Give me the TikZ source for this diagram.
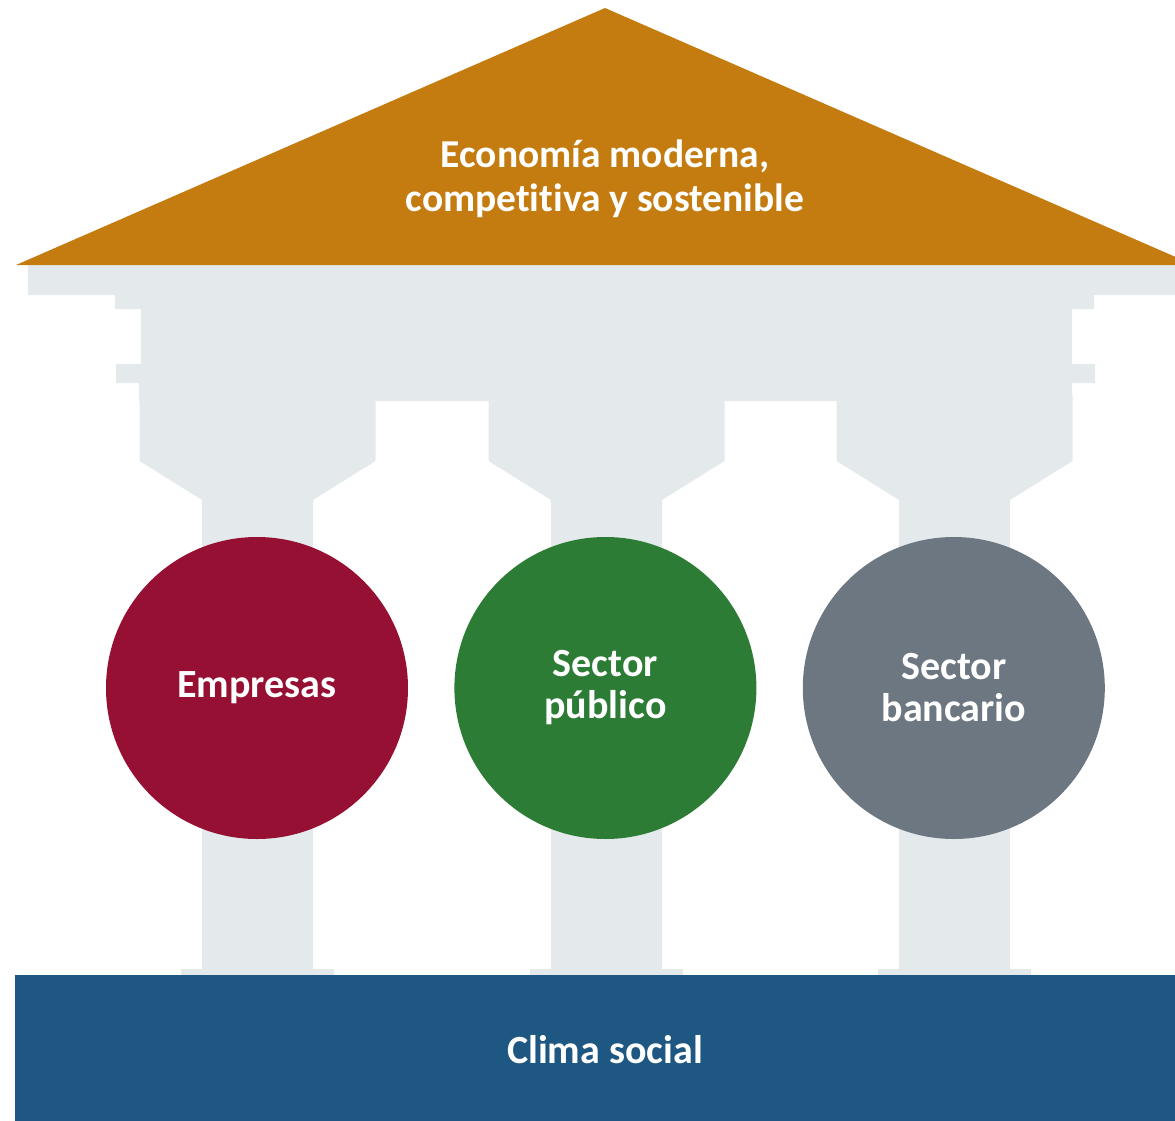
\documentclass[tikz,border=0pt]{standalone}
\usepackage{fontspec}
\setmainfont{Carlito}[Ligatures=NoCommon]
\usepackage{tikz}
\usetikzlibrary{positioning}

\definecolor{roofgold}{RGB}{196,124,16}
\definecolor{templegrey}{RGB}{228,233,236}
\definecolor{empred}{RGB}{150,16,52}
\definecolor{pubgreen}{RGB}{44,124,54}
\definecolor{bankgrey}{RGB}{109,119,129}
\definecolor{climablue}{RGB}{30,87,130}

\begin{document}
\begin{tikzpicture}[x=1pt,y=-1pt,
		pillar node/.style={circle,minimum size=302pt,inner sep=0pt,
			text=white,align=center,font=\fontsize{40}{42}\selectfont\bfseries},
		band text/.style={text=white,align=center,
			font=\fontsize{40}{42}\selectfont\bfseries}]
	
	\useasboundingbox (0,0) rectangle (1175,1121);
	\clip (0,0) rectangle (1175,1121);
	
	% columns
	\foreach \cx in {257.5,606.5,954.5}
		\fill[templegrey] (\cx-118,395) -- (\cx+118,395) -- (\cx+118,461)
		-- (\cx+55.5,500) -- (\cx+55.5,969) -- (\cx+76.5,969) -- (\cx+76.5,976)
		-- (\cx-76.5,976) -- (\cx-76.5,969) -- (\cx-55.5,969) -- (\cx-55.5,500)
		-- (\cx-118,461) -- cycle;
	
	% entablature
	\fill[templegrey] (28,265) -- (1182,265) -- (1182,295) -- (1094,295)
	-- (1094,309) -- (1072,309) -- (1072,364) -- (1095,364) -- (1095,383)
	-- (1072,383) -- (1072,401) -- (139,401) -- (139,383) -- (116,383)
	-- (116,364) -- (141,364) -- (141,309) -- (115,309) -- (115,295)
	-- (28,295) -- cycle;
	
	% roof
	\fill[roofgold] (16,265) -- (605,8) -- (1194,265) -- cycle;
	\node[band text,font=\fontsize{39.5}{44}\selectfont\bfseries] (econ) at (605,179)
		{Economía moderna,\\competitiva y sostenible};
	
	\node[pillar node,fill=empred] (emp) at (257,688) {Empresas};
	\node[pillar node,fill=pubgreen,right=46pt of emp] (pub) {Sector\\público};
	\node[pillar node,fill=bankgrey,right=46pt of pub] (ban) {Sector\\bancario};
	
	% base
	\fill[climablue] (15,975) rectangle (1175,1121);
	\node[band text] (clima) at (605,1050) {Clima social};
\end{tikzpicture}
\end{document}
